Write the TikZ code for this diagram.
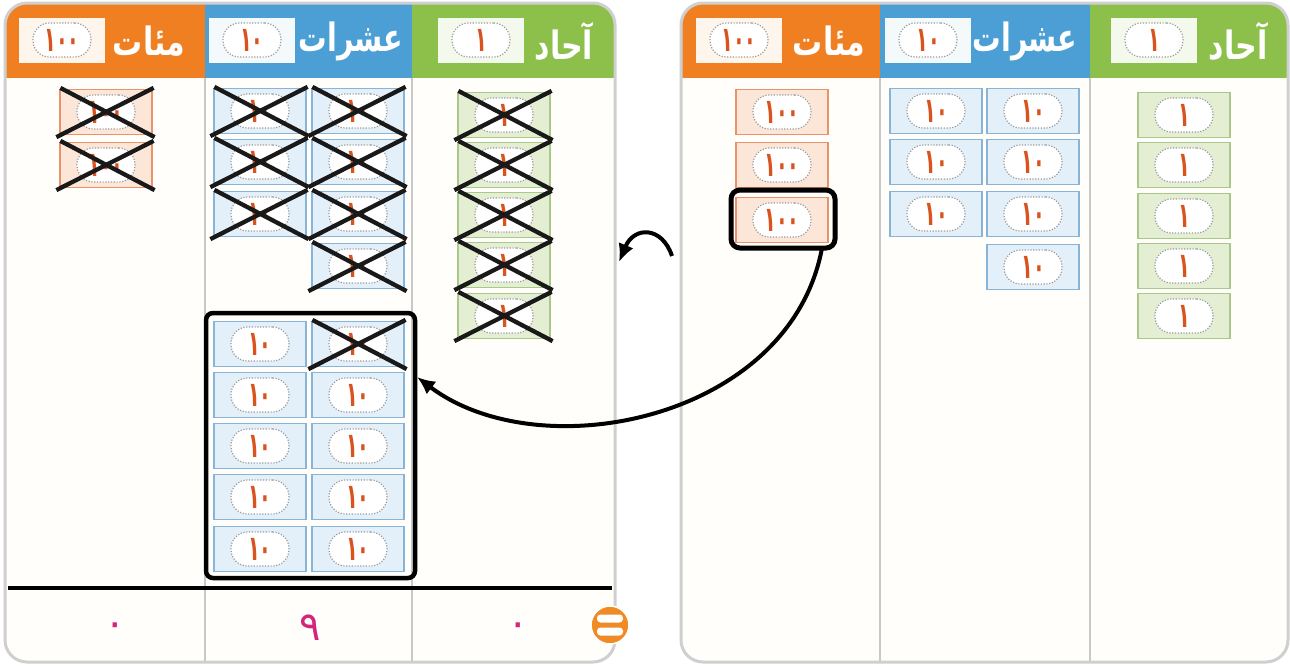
\documentclass[tikz,border=0pt]{standalone}
\usepackage{fontspec}
\usetikzlibrary{arrows.meta}
\TeXXeTstate=1
\newfontfamily\arf[Script=Arabic]{DejaVu Sans}
\definecolor{orangeH}{HTML}{F07F22}
\definecolor{blueH}{HTML}{4C9FD5}
\definecolor{greenH}{HTML}{8DC04B}
\definecolor{billOf}{HTML}{FCE6D8}
\definecolor{billOd}{HTML}{E8936A}
\definecolor{billBf}{HTML}{E3F0FA}
\definecolor{billBd}{HTML}{88B4D8}
\definecolor{billGf}{HTML}{E4EED3}
\definecolor{billGd}{HTML}{A9C98B}
\definecolor{numc}{HTML}{D9531E}
\definecolor{dotc}{HTML}{9A9A9A}
\definecolor{panelb}{HTML}{CFCFCF}
\definecolor{panelf}{HTML}{FFFEFA}
\definecolor{divc}{HTML}{C8C8C8}
\definecolor{botc}{HTML}{D6247C}
\definecolor{eqc}{HTML}{F08A24}
\tikzset{
  billbase/.style={line width=1.2pt, minimum width=92pt, minimum height=45pt, inner sep=0pt},
  billo/.style={billbase, draw=billOd, fill=billOf},
  billb/.style={billbase, draw=billBd, fill=billBf},
  billg/.style={billbase, draw=billGd, fill=billGf},
  billin/.style={draw=dotc, line width=1.2pt, dash pattern=on 1.2pt off 1.6pt, fill=white, rounded corners=16.5pt, minimum width=58pt, minimum height=34pt, inner sep=0pt, text=numc, font=\arf\bfseries\fontsize{24}{24}\selectfont},
  hbox/.style={inner sep=0pt, minimum width=86pt, minimum height=45pt},
  hdr/.style={text=white, font=\arf\bfseries\fontsize{30}{30}\selectfont, inner sep=0pt},
  crossln/.style={line width=4.3pt, black!90},
  panel/.style={draw=panelb, line width=3pt, rounded corners=22pt},
  divln/.style={draw=divc, line width=1.5pt},
  arr/.style={line width=4pt, -{Latex[length=18pt,width=16pt]}},
  hl/.style={draw=black, line width=5pt, rounded corners=9pt, minimum width=104pt, minimum height=58pt, inner sep=0pt},
  tbox/.style={draw=black, line width=4.5pt, rounded corners=7pt, minimum width=209pt, minimum height=265pt, inner sep=0pt},
  bot/.style={text=botc, font=\arf\fontsize{40}{40}\selectfont, inner sep=0pt},
}
\newcommand\numtxt[1]{\scalebox{0.8}[1.45]{#1}}
\newcommand\billnode[5]{\node[#4] (#1) at (#2,#3) {}; \node[billin] (#1n) at (#1.center) {\numtxt{#5}};}
\newcommand\xout[1]{\draw[crossln] ([xshift=-3pt,yshift=-2pt]#1.south west) -- ([xshift=1pt,yshift=1pt]#1.north east); \draw[crossln] ([xshift=1pt,yshift=1pt]#1.north west) -- ([xshift=2pt,yshift=-2pt]#1.south east);}
\begin{document}
\begin{tikzpicture}[x=1pt,y=-1pt]
\useasboundingbox (0,0) rectangle (1290,665);
\fill[white] (0,0) rectangle (1290,665);
% ---------- panels ----------
\fill[panelf, rounded corners=22pt] (5,3) rectangle (615,662);
\fill[panelf, rounded corners=22pt] (681,3) rectangle (1288,662);
\begin{scope}
  \clip[rounded corners=22pt] (5,3) rectangle (615,662);
  \fill[orangeH] (5,3) rectangle (205,78);
  \fill[blueH] (205,3) rectangle (412,78);
  \fill[greenH] (412,3) rectangle (615,78);
\end{scope}
\begin{scope}
  \clip[rounded corners=22pt] (681,3) rectangle (1288,662);
  \fill[orangeH] (681,3) rectangle (880,78);
  \fill[blueH] (880,3) rectangle (1090,78);
  \fill[greenH] (1090,3) rectangle (1288,78);
\end{scope}
\draw[divln] (205,78) -- (205,661) (412,78) -- (412,661);
\draw[divln] (880,78) -- (880,661) (1090,78) -- (1090,661);
\draw[panel] (5,3) rectangle (615,662);
\draw[panel] (681,3) rectangle (1288,662);
% ---------- headers ----------
\node[hbox, fill=white!92!orangeH] (lhb1) at (62,40) {};
\node[billin] (lhb1n) at (lhb1.center) {\numtxt{١٠٠}};
\node[hdr] (lht1) at (149,41) {\scalebox{1}[1.3]{\beginR مئات\endR}};
\node[hbox, fill=white!94!blueH] (lhb2) at (252,40) {};
\node[billin] (lhb2n) at (lhb2.center) {\numtxt{١٠}};
\node[hdr] (lht2) at (351,41) {\scalebox{0.95}[1.3]{\beginR عشرات\endR}};
\node[hbox, fill=white!90!greenH] (lhb3) at (481,40) {};
\node[billin] (lhb3n) at (lhb3.center) {\numtxt{١}};
\node[hdr] (lht3) at (564,41) {\scalebox{1}[1.3]{\beginR آحاد\endR}};
\node[hbox, fill=white!92!orangeH] (rhb1) at (739,40) {};
\node[billin] (rhb1n) at (rhb1.center) {\numtxt{١٠٠}};
\node[hdr] (rht1) at (829,41) {\scalebox{1}[1.3]{\beginR مئات\endR}};
\node[hbox, fill=white!94!blueH] (rhb2) at (928,40) {};
\node[billin] (rhb2n) at (rhb2.center) {\numtxt{١٠}};
\node[hdr] (rht2) at (1025,41) {\scalebox{0.95}[1.3]{\beginR عشرات\endR}};
\node[hbox, fill=white!90!greenH] (rhb3) at (1154,40) {};
\node[billin] (rhb3n) at (rhb3.center) {\numtxt{١}};
\node[hdr] (rht3) at (1238,41) {\scalebox{1}[1.3]{\beginR آحاد\endR}};
% ---------- left panel bills ----------
\billnode{lo1}{106}{112}{billo}{١٠٠}
\billnode{lo2}{106}{165}{billo}{١٠٠}
\billnode{lt1}{260}{111}{billb}{١٠}
\billnode{lt2}{260}{162}{billb}{١٠}
\billnode{lt3}{260}{214}{billb}{١٠}
\billnode{lt4}{358}{111}{billb}{١٠}
\billnode{lt5}{358}{162}{billb}{١٠}
\billnode{lt6}{358}{214}{billb}{١٠}
\billnode{lt7}{358}{266}{billb}{١٠}
\billnode{lg1}{504}{115}{billg}{١}
\billnode{lg2}{504}{165}{billg}{١}
\billnode{lg3}{504}{215}{billg}{١}
\billnode{lg4}{504}{265}{billg}{١}
\billnode{lg5}{504}{316}{billg}{١}
\foreach \n in {lo1,lo2,lt1,lt2,lt3,lt4,lt5,lt6,lt7,lg1,lg2,lg3,lg4,lg5} {\xout{\n}}
% exchanged tens
\billnode{ex1}{260}{344}{billb}{١٠}
\billnode{ex2}{358}{344}{billb}{١٠}
\billnode{ex3}{260}{395}{billb}{١٠}
\billnode{ex4}{358}{395}{billb}{١٠}
\billnode{ex5}{260}{446}{billb}{١٠}
\billnode{ex6}{358}{446}{billb}{١٠}
\billnode{ex7}{260}{497}{billb}{١٠}
\billnode{ex8}{358}{497}{billb}{١٠}
\billnode{ex9}{260}{549}{billb}{١٠}
\billnode{ex10}{358}{549}{billb}{١٠}
\xout{ex2}
\node[tbox] (tb) at (310.5,445.5) {};
% bottom result row
\draw[line width=3.5pt] (8,588) -- (612,588);
\node[bot] (d1) at (115,630) {٠};
\node[bot] (d2) at (310,628) {٩};
\node[bot] (d3) at (518,630) {٠};
\node[circle, fill=eqc, draw=white, line width=1.5pt, minimum size=38pt, inner sep=0pt] (eq) at (610,625) {};
\fill[white, rounded corners=3.5pt] (597,614.5) rectangle (623,622.5);
\fill[white, rounded corners=3.5pt] (597,627.5) rectangle (623,635.5);
% ---------- right panel bills ----------
\billnode{ro1}{782}{112}{billo}{١٠٠}
\billnode{ro2}{782}{165}{billo}{١٠٠}
\billnode{ro3}{782}{220}{billo}{١٠٠}
\node[hl] (hl) at (783,219) {};
\billnode{rt1}{936}{111}{billb}{١٠}
\billnode{rt2}{936}{162}{billb}{١٠}
\billnode{rt3}{936}{214}{billb}{١٠}
\billnode{rt4}{1033}{111}{billb}{١٠}
\billnode{rt5}{1033}{162}{billb}{١٠}
\billnode{rt6}{1033}{214}{billb}{١٠}
\billnode{rt7}{1033}{267}{billb}{١٠}
\billnode{rg1}{1184}{115}{billg}{١}
\billnode{rg2}{1184}{165}{billg}{١}
\billnode{rg3}{1184}{216}{billg}{١}
\billnode{rg4}{1184}{266}{billg}{١}
\billnode{rg5}{1184}{316}{billg}{١}
% ---------- arrows ----------
\coordinate (bigstart) at (822,248);
\coordinate (bigend) at (417,377);
\draw[arr] (bigstart) .. controls (790,420) and (540,470) .. (bigend);
\coordinate (sa1) at (672,256);
\coordinate (sa2) at (619,262);
\draw[arr] (sa1) .. controls (662,226) and (634,226) .. (sa2);
\end{tikzpicture}
\end{document}
